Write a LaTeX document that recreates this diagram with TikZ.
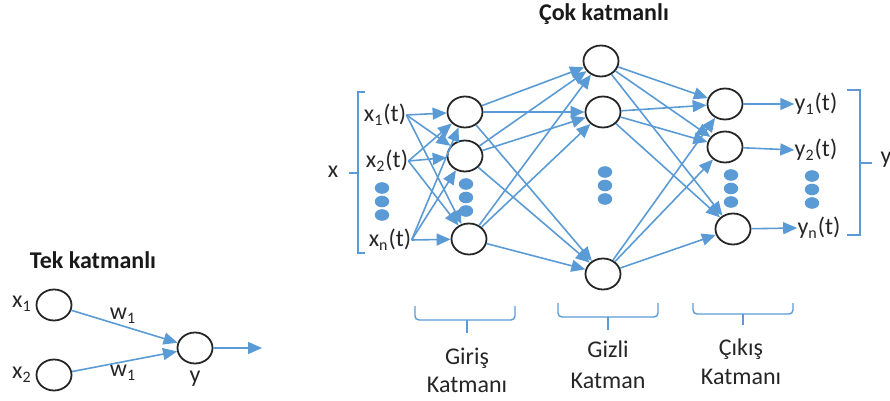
\documentclass[tikz,border=0pt]{standalone}
\usepackage{fontspec}
\setmainfont{Carlito}
\usetikzlibrary{shapes.geometric,arrows.meta}
\definecolor{netblue}{HTML}{5B9BD5}
\tikzset{
  neuron/.style={draw=black!85, line width=0.9pt, ellipse, minimum width=17.5pt, minimum height=15.5pt, inner sep=0pt},
  conn/.style={netblue, line width=0.8pt, -{Triangle[length=7pt,width=6pt]}},
  brace/.style={netblue, line width=0.7pt, rounded corners=2pt},
  txt/.style={font=\fontsize{12}{15}\selectfont, text=black!85, inner sep=0pt},
  headline/.style={font=\fontsize{12}{15}\selectfont\bfseries, text=black!90, inner sep=0pt}
}

\begin{document}
\begin{tikzpicture}[x=0.5pt, y=-0.5pt]
\useasboundingbox (0,0) rectangle (890,401);
% Single layer
\node[headline] (tek) at (93,260) {Tek katmanlı};
\node[neuron] (s1) at (54,305) {};
\node[neuron] (s2) at (54,375) {};
\node[neuron] (sy) at (195,348) {};
\node[txt] (sx1) at (22,304) {x\textsubscript{1}};
\node[txt] (sx2) at (22,375) {x\textsubscript{2}};
\node[txt] (w1a) at (123,316) {w\textsubscript{1}};
\node[txt] (w1b) at (123,373) {w\textsubscript{1}};
\node[txt] (sylab) at (195,379) {y};
\coordinate (sout) at (262,348);
\draw[conn] (s1) -- (sy);
\draw[conn] (s2) -- (sy);
\draw[conn] (sy) -- (sout);

% Multi layer
\node[headline] (cok) at (604,14) {Çok katmanlı};
\node[txt] (x1) at (385,115) {x\textsubscript{1}(t)};
\node[txt] (x2) at (387,161) {x\textsubscript{2}(t)};
\node[txt] (xn) at (390,240) {x\textsubscript{n}(t)};
\node[txt] (xlab) at (333,172) {x};
\node[neuron] (i1) at (465,112) {};
\node[neuron] (i2) at (465,156) {};
\node[neuron] (i3) at (469,239) {};
\node[neuron] (h1) at (601,61) {};
\node[neuron] (h2) at (603,112) {};
\node[neuron] (h3) at (603,274) {};
\node[neuron] (o1) at (725,104) {};
\node[neuron] (o2) at (725,147) {};
\node[neuron] (o3) at (733,229) {};
\node[txt] (y1) at (816,104) {y\textsubscript{1}(t)};
\node[txt] (y2) at (816,150) {y\textsubscript{2}(t)};
\node[txt] (yn) at (819,228) {y\textsubscript{n}(t)};
\node[txt] (ylab) at (886,160) {y};

\foreach \a in {x1,x2,xn}
\foreach \b in {i1,i2,i3}
    \draw[conn] (\a.east) -- (\b);
\foreach \a in {i1,i2,i3}
\foreach \b in {h1,h2,h3}
    \draw[conn] (\a) -- (\b);
\foreach \a in {h1,h2,h3}
\foreach \b in {o1,o2,o3}
    \draw[conn] (\a) -- (\b);
\draw[conn] (o1) -- (y1.west);
\draw[conn] (o2) -- (y2.west);
\draw[conn] (o3) -- (yn.west);

% dots
\foreach \cx/\cy in {382/188,466/184,605/172,731/175,812/176}
{
    \fill[netblue] (\cx,\cy) ellipse (3.6pt and 2.9pt);
    \fill[netblue] (\cx,\cy+13.5) ellipse (3.6pt and 2.9pt);
    \fill[netblue] (\cx,\cy+27) ellipse (3.6pt and 2.9pt);
}

% brackets
\draw[netblue, line width=0.7pt] (365,92) -- (358,92) -- (358,253) -- (365,253);
\draw[netblue, line width=0.7pt] (358,173) -- (349,173);
\draw[netblue, line width=0.7pt] (847,90) -- (860,90) -- (860,235) -- (847,235);
\draw[netblue, line width=0.7pt] (860,163) -- (872,163);

% layer braces
\foreach \l/\r/\t/\m/\b/\c in {415/515/306/320/333/467, 558/658/303/317/330/608, 693/793/303/314/325/743}
{
    \draw[brace] (\l,\t) -- (\l,\m) -- (\r,\m) -- (\r,\t);
    \draw[brace] (\c,\m) -- (\c,\b);
}
\node[txt, align=center, font=\fontsize{12}{14}\selectfont] (giris) at (467,370) {Giriş\\Katmanı};
\node[txt, align=center, font=\fontsize{12}{15.5}\selectfont] (gizli) at (608,365) {Gizli\\Katman};
\node[txt, align=center, font=\fontsize{12}{14.5}\selectfont] (cikis) at (741,362) {Çıkış\\Katmanı};
\end{tikzpicture}
\end{document}
